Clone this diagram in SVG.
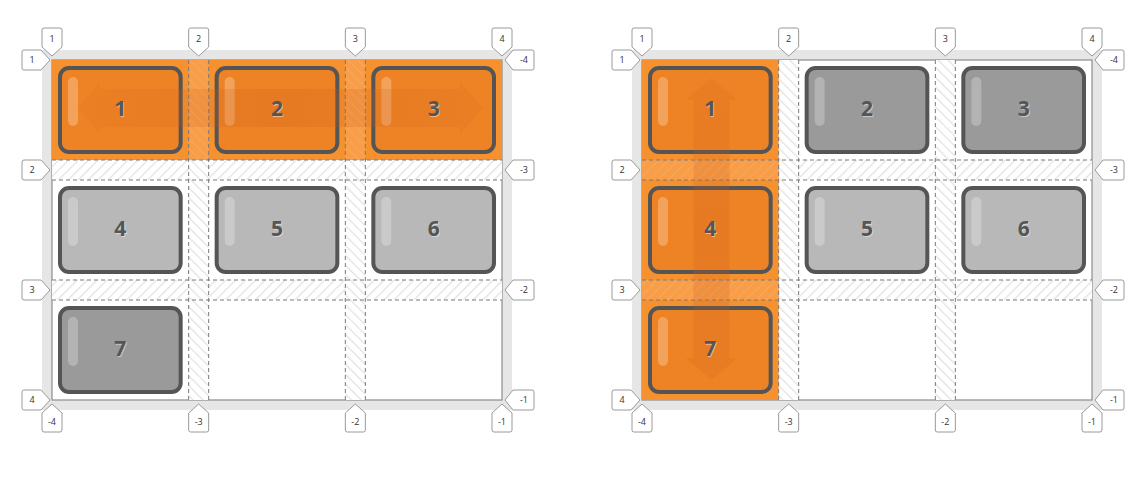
<svg xmlns="http://www.w3.org/2000/svg" width="1146" height="477" viewBox="0 0 1146 477">
<style>
.frame{fill:#e6e6e6}
.inner{fill:#ffffff;stroke:#8c8c8c;stroke-width:1.2}
.dash{stroke:#7a7a7a;stroke-width:1;stroke-dasharray:4 3;fill:none}
.box{stroke:#555555;stroke-width:4}
.or{fill:#ee8325}
.g1{fill:#b8b8b8}
.g2{fill:#9a9a9a}
.shine{fill:#ffffff;opacity:0.25}
.num{font-family:"Open Sans","DejaVu Sans",sans-serif;font-weight:bold;font-size:21px;text-anchor:middle;fill:#555555}
.numsh{font-family:"Open Sans","DejaVu Sans",sans-serif;font-weight:bold;font-size:21px;text-anchor:middle;fill:#ffffff;opacity:0.45}
.tag{fill:#ffffff;stroke:#9a9a9a;stroke-width:1}
.lbl{font-family:"Open Sans","DejaVu Sans",sans-serif;font-size:9px;text-anchor:middle;fill:#333333}
.cellor{fill:#f5912f}
</style>
<defs>
<pattern id="hatchRow" width="7" height="7" patternUnits="userSpaceOnUse" patternTransform="rotate(45)">
<rect width="7" height="7" fill="#ffffff"/>
<line x1="0" y1="0" x2="0" y2="7" stroke="#e2e2e2" stroke-width="2.5"/>
</pattern>
<pattern id="hatchCol" width="7" height="7" patternUnits="userSpaceOnUse" patternTransform="rotate(-45)">
<rect width="7" height="7" fill="#ffffff"/>
<line x1="0" y1="0" x2="0" y2="7" stroke="#e2e2e2" stroke-width="2.5"/>
</pattern>
<pattern id="hatchColO" width="7" height="7" patternUnits="userSpaceOnUse" patternTransform="rotate(-45)">
<rect width="7" height="7" fill="#f89d48"/>
<line x1="0" y1="0" x2="0" y2="7" stroke="#faa758" stroke-width="2.5"/>
</pattern>
<pattern id="hatchRowO" width="7" height="7" patternUnits="userSpaceOnUse" patternTransform="rotate(45)">
<rect width="7" height="7" fill="#f89d48"/>
<line x1="0" y1="0" x2="0" y2="7" stroke="#faa758" stroke-width="2.5"/>
</pattern>
<linearGradient id="arrH" x1="78" y1="0" x2="483" y2="0" gradientUnits="userSpaceOnUse">
<stop offset="0" stop-color="#c85a1a" stop-opacity="0.1"/>
<stop offset="0.5" stop-color="#c85a1a" stop-opacity="0.22"/>
<stop offset="1" stop-color="#c85a1a" stop-opacity="0.12"/>
</linearGradient>
<linearGradient id="arrV" x1="0" y1="78" x2="0" y2="380" gradientUnits="userSpaceOnUse">
<stop offset="0" stop-color="#c85a1a" stop-opacity="0.14"/>
<stop offset="0.5" stop-color="#c85a1a" stop-opacity="0.22"/>
<stop offset="1" stop-color="#c85a1a" stop-opacity="0.16"/>
</linearGradient>
<path id="tagTop" d="M-10,47 V30 Q-10,28 -8,28 H8 Q10,28 10,30 V47 L0,56 Z"/>
<path id="tagBot" d="M-10,413 V430 Q-10,432 -8,432 H8 Q10,432 10,430 V413 L0,404 Z"/>
<path id="tagLeft" d="M41,-10 H24 Q22,-10 22,-8 V8 Q22,10 24,10 H41 L50,0 Z"/>
<path id="tagRight" d="M513,-10 H532 Q534,-10 534,-8 V8 Q534,10 532,10 H513 L505,0 Z"/>
</defs>

<!-- LEFT GRID -->
<g id="left-grid">
<rect class="frame" x="42" y="50" width="470" height="360"/>
<rect class="inner" x="52" y="60" width="450" height="340"/>
<rect x="52" y="160" width="450" height="20" fill="url(#hatchRow)"/>
<rect x="52" y="280" width="450" height="20" fill="url(#hatchRow)"/>
<rect x="188.67" y="60" width="20" height="340" fill="url(#hatchCol)"/>
<rect x="345.33" y="60" width="20" height="340" fill="url(#hatchCol)"/>
<rect class="cellor" x="52" y="60" width="450" height="100"/>
<rect x="188.67" y="60" width="20" height="100" fill="url(#hatchColO)"/>
<rect x="345.33" y="60" width="20" height="100" fill="url(#hatchColO)"/>
<g class="dash">
<line x1="52" y1="160" x2="502" y2="160"/>
<line x1="52" y1="180" x2="502" y2="180"/>
<line x1="52" y1="280" x2="502" y2="280"/>
<line x1="52" y1="300" x2="502" y2="300"/>
<line x1="188.67" y1="60" x2="188.67" y2="400"/>
<line x1="208.67" y1="60" x2="208.67" y2="400"/>
<line x1="345.33" y1="60" x2="345.33" y2="400"/>
<line x1="365.33" y1="60" x2="365.33" y2="400"/>
</g>
</g>

<g id="L-item1"><rect class="box or" x="60" y="68" width="120.67" height="84" rx="9"/><rect class="shine" x="68" y="77" width="10" height="49" rx="5"/></g>
<g id="L-item2"><rect class="box or" x="216.67" y="68" width="120.67" height="84" rx="9"/><rect class="shine" x="224.67" y="77" width="10" height="49" rx="5"/></g>
<g id="L-item3"><rect class="box or" x="373.33" y="68" width="120.67" height="84" rx="9"/><rect class="shine" x="381.33" y="77" width="10" height="49" rx="5"/></g>
<g id="L-item4"><rect class="box g1" x="60" y="188" width="120.67" height="84" rx="9"/><rect class="shine" x="68" y="197" width="10" height="49" rx="5"/></g>
<g id="L-item5"><rect class="box g1" x="216.67" y="188" width="120.67" height="84" rx="9"/><rect class="shine" x="224.67" y="197" width="10" height="49" rx="5"/></g>
<g id="L-item6"><rect class="box g1" x="373.33" y="188" width="120.67" height="84" rx="9"/><rect class="shine" x="381.33" y="197" width="10" height="49" rx="5"/></g>
<g id="L-item7"><rect class="box g2" x="60" y="308" width="120.67" height="84" rx="9"/><rect class="shine" x="68" y="317" width="10" height="49" rx="5"/></g>

<!-- RIGHT GRID -->
<g id="right-grid" transform="translate(590,0)">
<rect class="frame" x="42" y="50" width="470" height="360"/>
<rect class="inner" x="52" y="60" width="450" height="340"/>
<rect x="52" y="160" width="450" height="20" fill="url(#hatchRow)"/>
<rect x="52" y="280" width="450" height="20" fill="url(#hatchRow)"/>
<rect x="188.67" y="60" width="20" height="340" fill="url(#hatchCol)"/>
<rect x="345.33" y="60" width="20" height="340" fill="url(#hatchCol)"/>
<rect class="cellor" x="52" y="60" width="136.67" height="340"/>
<rect x="52" y="160" width="136.67" height="20" fill="url(#hatchRowO)"/>
<rect x="52" y="280" width="136.67" height="20" fill="url(#hatchRowO)"/>
<g class="dash">
<line x1="52" y1="160" x2="502" y2="160"/>
<line x1="52" y1="180" x2="502" y2="180"/>
<line x1="52" y1="280" x2="502" y2="280"/>
<line x1="52" y1="300" x2="502" y2="300"/>
<line x1="188.67" y1="60" x2="188.67" y2="400"/>
<line x1="208.67" y1="60" x2="208.67" y2="400"/>
<line x1="345.33" y1="60" x2="345.33" y2="400"/>
<line x1="365.33" y1="60" x2="365.33" y2="400"/>
</g>
</g>

<g id="R-item1"><rect class="box or" x="650" y="68" width="120.67" height="84" rx="9"/><rect class="shine" x="658" y="77" width="10" height="49" rx="5"/></g>
<g id="R-item2"><rect class="box g2" x="806.67" y="68" width="120.67" height="84" rx="9"/><rect class="shine" x="814.67" y="77" width="10" height="49" rx="5"/></g>
<g id="R-item3"><rect class="box g2" x="963.33" y="68" width="120.67" height="84" rx="9"/><rect class="shine" x="971.33" y="77" width="10" height="49" rx="5"/></g>
<g id="R-item4"><rect class="box or" x="650" y="188" width="120.67" height="84" rx="9"/><rect class="shine" x="658" y="197" width="10" height="49" rx="5"/></g>
<g id="R-item5"><rect class="box g1" x="806.67" y="188" width="120.67" height="84" rx="9"/><rect class="shine" x="814.67" y="197" width="10" height="49" rx="5"/></g>
<g id="R-item6"><rect class="box g1" x="963.33" y="188" width="120.67" height="84" rx="9"/><rect class="shine" x="971.33" y="197" width="10" height="49" rx="5"/></g>
<g id="R-item7"><rect class="box or" x="650" y="308" width="120.67" height="84" rx="9"/><rect class="shine" x="658" y="317" width="10" height="49" rx="5"/></g>

<!-- direction arrows -->
<g id="connectors">
<path d="M78,108 L100,82 L100,89 L460,89 L460,82 L483,108 L460,134 L460,127 L100,127 L100,134 Z" fill="url(#arrH)"/>
<path d="M711.5,78 L737.5,100 L729.5,100 L729.5,358 L737.5,358 L711.5,380 L685.5,358 L693.5,358 L693.5,100 L685.5,100 Z" fill="url(#arrV)"/>
</g>

<!-- numbers -->
<g id="numbers">
<text class="numsh" x="121.3" y="116.5">1</text><text class="num" x="120.3" y="115.5">1</text>
<text class="numsh" x="278" y="116.5">2</text><text class="num" x="277" y="115.5">2</text>
<text class="numsh" x="434.7" y="116.5">3</text><text class="num" x="433.7" y="115.5">3</text>
<text class="numsh" x="121.3" y="236.5">4</text><text class="num" x="120.3" y="235.5">4</text>
<text class="numsh" x="278" y="236.5">5</text><text class="num" x="277" y="235.5">5</text>
<text class="numsh" x="434.7" y="236.5">6</text><text class="num" x="433.7" y="235.5">6</text>
<text class="numsh" x="121.3" y="356.5">7</text><text class="num" x="120.3" y="355.5">7</text>
<text class="numsh" x="711.3" y="116.5">1</text><text class="num" x="710.3" y="115.5">1</text>
<text class="numsh" x="868" y="116.5">2</text><text class="num" x="867" y="115.5">2</text>
<text class="numsh" x="1024.7" y="116.5">3</text><text class="num" x="1023.7" y="115.5">3</text>
<text class="numsh" x="711.3" y="236.5">4</text><text class="num" x="710.3" y="235.5">4</text>
<text class="numsh" x="868" y="236.5">5</text><text class="num" x="867" y="235.5">5</text>
<text class="numsh" x="1024.7" y="236.5">6</text><text class="num" x="1023.7" y="235.5">6</text>
<text class="numsh" x="711.3" y="356.5">7</text><text class="num" x="710.3" y="355.5">7</text>
</g>

<!-- line number tags -->
<g id="labels-left">
<use href="#tagTop" class="tag" x="52"/><text class="lbl" x="52" y="42">1</text>
<use href="#tagTop" class="tag" x="198.67"/><text class="lbl" x="198.67" y="42">2</text>
<use href="#tagTop" class="tag" x="355.33"/><text class="lbl" x="355.33" y="42">3</text>
<use href="#tagTop" class="tag" x="502"/><text class="lbl" x="502" y="42">4</text>
<use href="#tagBot" class="tag" x="52"/><text class="lbl" x="52" y="425">-4</text>
<use href="#tagBot" class="tag" x="198.67"/><text class="lbl" x="198.67" y="425">-3</text>
<use href="#tagBot" class="tag" x="355.33"/><text class="lbl" x="355.33" y="425">-2</text>
<use href="#tagBot" class="tag" x="502"/><text class="lbl" x="502" y="425">-1</text>
<use href="#tagLeft" class="tag" y="60"/><text class="lbl" x="32" y="63">1</text>
<use href="#tagLeft" class="tag" y="170"/><text class="lbl" x="32" y="173">2</text>
<use href="#tagLeft" class="tag" y="290"/><text class="lbl" x="32" y="293">3</text>
<use href="#tagLeft" class="tag" y="400"/><text class="lbl" x="32" y="403">4</text>
<use href="#tagRight" class="tag" y="60"/><text class="lbl" x="524" y="63">-4</text>
<use href="#tagRight" class="tag" y="170"/><text class="lbl" x="524" y="173">-3</text>
<use href="#tagRight" class="tag" y="290"/><text class="lbl" x="524" y="293">-2</text>
<use href="#tagRight" class="tag" y="400"/><text class="lbl" x="524" y="403">-1</text>
</g>
<g id="labels-right" transform="translate(590,0)">
<use href="#tagTop" class="tag" x="52"/><text class="lbl" x="52" y="42">1</text>
<use href="#tagTop" class="tag" x="198.67"/><text class="lbl" x="198.67" y="42">2</text>
<use href="#tagTop" class="tag" x="355.33"/><text class="lbl" x="355.33" y="42">3</text>
<use href="#tagTop" class="tag" x="502"/><text class="lbl" x="502" y="42">4</text>
<use href="#tagBot" class="tag" x="52"/><text class="lbl" x="52" y="425">-4</text>
<use href="#tagBot" class="tag" x="198.67"/><text class="lbl" x="198.67" y="425">-3</text>
<use href="#tagBot" class="tag" x="355.33"/><text class="lbl" x="355.33" y="425">-2</text>
<use href="#tagBot" class="tag" x="502"/><text class="lbl" x="502" y="425">-1</text>
<use href="#tagLeft" class="tag" y="60"/><text class="lbl" x="32" y="63">1</text>
<use href="#tagLeft" class="tag" y="170"/><text class="lbl" x="32" y="173">2</text>
<use href="#tagLeft" class="tag" y="290"/><text class="lbl" x="32" y="293">3</text>
<use href="#tagLeft" class="tag" y="400"/><text class="lbl" x="32" y="403">4</text>
<use href="#tagRight" class="tag" y="60"/><text class="lbl" x="524" y="63">-4</text>
<use href="#tagRight" class="tag" y="170"/><text class="lbl" x="524" y="173">-3</text>
<use href="#tagRight" class="tag" y="290"/><text class="lbl" x="524" y="293">-2</text>
<use href="#tagRight" class="tag" y="400"/><text class="lbl" x="524" y="403">-1</text>
</g>
</svg>
